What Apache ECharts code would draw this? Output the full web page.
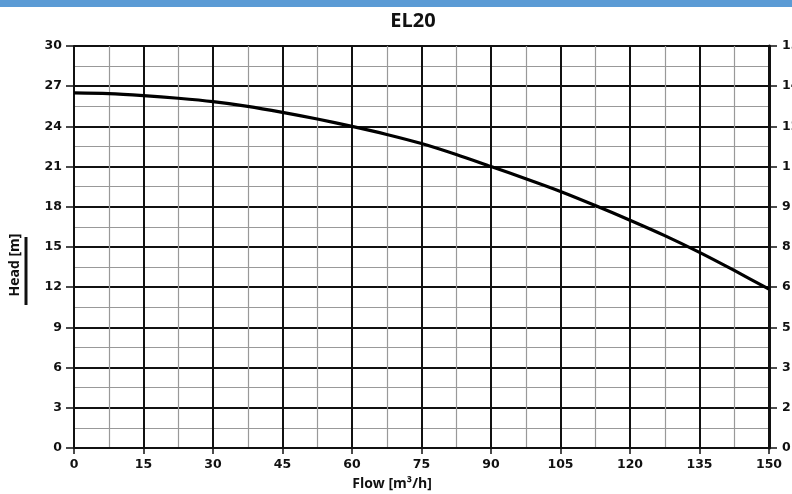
<!DOCTYPE html>
<html>
<head>
<meta charset="utf-8">
<script src="https://cdn.jsdelivr.net/npm/echarts@6/dist/echarts.min.js"></script>
<style>html,body{margin:0;padding:0;background:#fff;}#c{width:792px;height:494px;}</style>
</head>
<body>
<div id="c"></div>
<script>
var chartTitle = 'EL20';
var xName = 'Flow [m³/h]';
var yName = 'Head [m]';
var flow = [0, 7.5, 15, 22.5, 30, 37.5, 45, 52.5, 60, 67.5, 75, 82.5, 90, 97.5, 105, 112.5, 120, 127.5, 135, 142.5, 150];
var head = [26.5, 26.45, 26.3, 26.1, 25.85, 25.5, 25.05, 24.55, 24.0, 23.4, 22.72, 21.9, 21.0, 20.1, 19.15, 18.1, 17.0, 15.85, 14.6, 13.25, 11.85];

var chart = echarts.init(document.getElementById('c'));
var lblFont = {fontFamily: 'DejaVu Sans', fontWeight: 'bold', fontSize: 12.5, color: '#111'};
chart.setOption({
  animation: false,
  backgroundColor: '#fff',
  title: {text: chartTitle, left: 408, top: 6, textAlign: 'center',
    textStyle: {fontFamily: 'Open Sans', fontWeight: 'bold', fontSize: 20, color: '#111'}},
  grid: {left: 74, right: 23, top: 46, bottom: 46, outerBoundsMode: 'none', containLabel: false},
  graphic: [
    {type: 'rect', left: 0, top: 0, shape: {width: 792, height: 7}, style: {fill: '#5b9bd5'}},
    {type: 'text', x: 15, y: 265, rotation: Math.PI / 2,
      style: {text: yName, fontFamily: 'Open Sans', fontWeight: 'bold', fontSize: 14, fill: '#111', align: 'center', verticalAlign: 'middle'}},
    {type: 'line', shape: {x1: 26, y1: 237, x2: 26, y2: 305}, style: {stroke: '#111', lineWidth: 3}},
    {type: 'text', x: 392, y: 484,
      style: {text: xName, fontFamily: 'Open Sans', fontWeight: 'bold', fontSize: 14, fill: '#111', align: 'center', verticalAlign: 'middle'}}
  ],
  xAxis: {
    type: 'value', min: 0, max: 150, interval: 15,
    axisLine: {show: true, onZero: false, lineStyle: {color: '#111', width: 2}},
    axisTick: {show: true, length: 6, lineStyle: {color: '#111', width: 1.5}},
    axisLabel: Object.assign({margin: 10}, lblFont),
    splitLine: {show: true, lineStyle: {color: '#111', width: 2}},
    minorTick: {show: true, splitNumber: 2, length: 0},
    minorSplitLine: {show: true, lineStyle: {color: '#999', width: 1.2}}
  },
  yAxis: [{
    type: 'value', min: 0, max: 30, interval: 3, position: 'left',
    axisLine: {show: true, lineStyle: {color: '#111', width: 2}},
    axisTick: {show: true, length: 8, lineStyle: {color: '#111', width: 1.5}},
    axisLabel: Object.assign({margin: 12}, lblFont),
    splitLine: {show: true, lineStyle: {color: '#111', width: 2}},
    minorTick: {show: true, splitNumber: 2, length: 0},
    minorSplitLine: {show: true, lineStyle: {color: '#999', width: 1.2}}
  }, {
    type: 'value', min: 0, max: 15, interval: 1.5, position: 'right',
    axisLine: {show: true, lineStyle: {color: '#111', width: 3}},
    axisTick: {show: true, length: 8, lineStyle: {color: '#111', width: 1.5}},
    axisLabel: Object.assign({margin: 13, formatter: function (v) { return String(Math.round(v)); }}, lblFont),
    splitLine: {show: false}
  }],
  series: [{
    type: 'line', yAxisIndex: 0, smooth: 0.3, showSymbol: false,
    data: flow.map(function (f, i) { return [f, head[i]]; }),
    lineStyle: {color: '#000', width: 3.2}
  }]
});
</script>
</body>
</html>
